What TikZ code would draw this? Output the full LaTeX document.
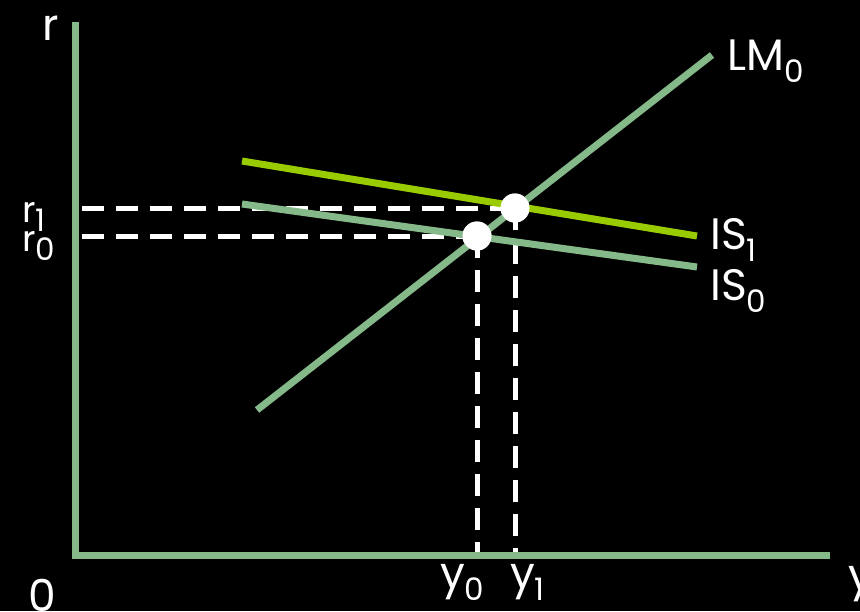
\documentclass[tikz,border=0pt]{standalone}
\usepackage{fontspec}
\setmainfont{Poppins}
\definecolor{axisgreen}{HTML}{86B98A}
\definecolor{isgreen}{HTML}{99CC00}
\newcommand\sbs[1]{\raisebox{-0.5ex}{\fontsize{31}{31}\selectfont #1}}
\begin{document}
\begin{tikzpicture}[x=1pt,y=-1pt,
  axisline/.style={draw=axisgreen,line width=7pt},
  curve/.style={draw=axisgreen,line width=7pt},
  iscurve/.style={draw=isgreen,line width=7pt},
  dashline/.style={draw=white,line width=5pt,dash pattern=on 22pt off 12pt},
  dot/.style={circle,fill=white,minimum size=29pt,inner sep=0pt},
  lab/.style={text=white,font=\fontsize{44}{44}\selectfont,inner sep=0pt,anchor=base west},
  smalllab/.style={text=white,font=\fontsize{36}{36}\selectfont,inner sep=0pt,anchor=base west}]
\useasboundingbox[fill=black] (0,0) rectangle (860,611);
\coordinate (O) at (75,555);
\coordinate (Ytop) at (75,22);
\coordinate (Xend) at (830,555);
\coordinate (LMa) at (257,410);
\coordinate (LMb) at (712,55);
\coordinate (ISa) at (242,204);
\coordinate (ISb) at (697,267);
\coordinate (ISIa) at (242,161);
\coordinate (ISIb) at (697,236);
\node[dot] (E0) at (477,236) {};
\node[dot] (E1) at (515,208) {};
\coordinate (r0) at (82,236);
\coordinate (r1) at (82,208);
\coordinate (y0) at (477,552);
\coordinate (y1) at (515,552);
\draw[dashline] (r1) -- (E1.center);
\draw[dashline] (r0) -- (E0.center);
\draw[dashline] (E0.center) -- (y0);
\draw[dashline] (E1.center) -- (y1);
\draw[axisline] (Ytop) -- (O) -- (Xend);
\draw[curve] (LMa) -- (LMb);
\draw[curve] (ISa) -- (ISb);
\draw[iscurve] (ISIa) -- (ISIb);
\node[dot] at (E0) {};
\node[dot] at (E1) {};
\node[lab] (lr) at (42,40) {r};
\node[lab] (lx) at (848,590) {y};
\node[lab] (lzero) at (28,611) {0};
\node[lab] (lLM) at (727,70) {LM\sbs{0}};
\node[lab] (lIS1) at (710,249) {IS\sbs{1}};
\node[lab] (lIS0) at (710,300) {IS\sbs{0}};
\node[smalllab] (lr1) at (22,222) {r\sbs{1}};
\node[smalllab] (lr0) at (22,251) {r\sbs{0}};
\node[lab] (ly0) at (440,588) {y\sbs{0}};
\node[lab] (ly1) at (510,588) {y\sbs{1}};
\end{tikzpicture}
\end{document}
